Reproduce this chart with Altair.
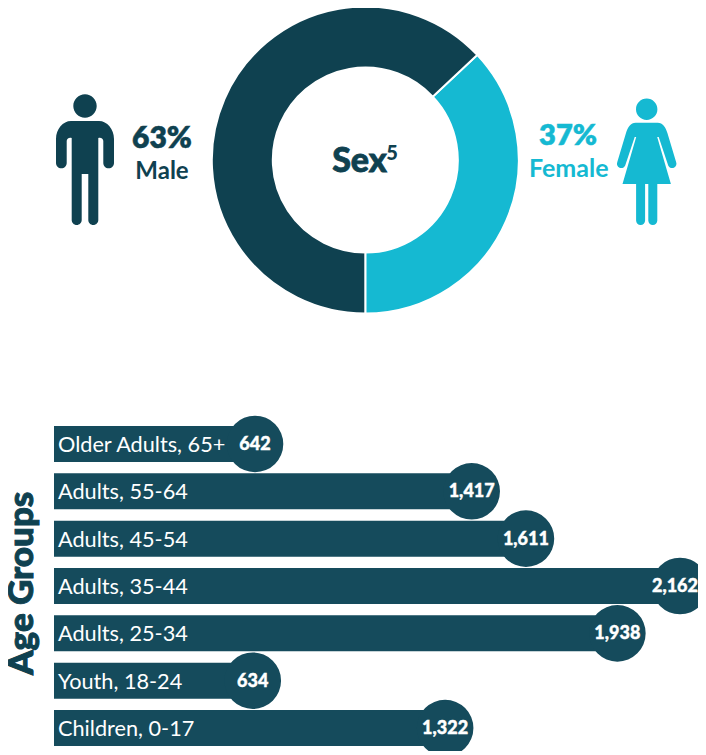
import math
import altair as alt
import pandas as pd

sexes = ["Female", "Male"]
sex_shares = [37, 63]
sex_order = [0, 1]
age_groups = ["Older Adults, 65+", "Adults, 55-64", "Adults, 45-54", "Adults, 35-44",
              "Adults, 25-34", "Youth, 18-24", "Children, 0-17"]
age_counts = [642, 1417, 1611, 2162, 1938, 634, 1322]

DARK = "#0f4150"
BAR = "#154b5c"
TEAL = "#15b9d2"
FONT = "Lato"
OX, OY = 8, 8

MALE_ICON = ("M-11.7,-59 a11.7,11.7 0 1,0 23.4,0 a11.7,11.7 0 1,0 -23.4,0 Z "
             "M-14,-44 H14 C22,-44 29,-36 29,-26 V-2 A5.35,5.35 0 0 1 18.3,-2 V-24 C18.3,-26 16,-28 13.3,-27 "
             "V55 A5,5 0 0 1 3.3,55 V9 H-3.3 V55 A5,5 0 0 1 -13.3,55 V-27 C-16,-28 -18.3,-26 -18.3,-24 V-2 "
             "A5.35,5.35 0 0 1 -29,-2 V-26 C-29,-36 -22,-44 -14,-44 Z")
FEMALE_ICON = ("M-10.7,-55.7 a10.7,10.7 0 1,0 21.4,0 a10.7,10.7 0 1,0 -21.4,0 Z "
               "M-11,-42.3 H11 C16,-42.3 19,-38 20.7,-32 L29.4,-3 A4,4 0 0 1 21.5,0.5 L12,-28 L10.5,-28 "
               "L24.2,19 H10.6 V55.5 A4.5,4.5 0 0 1 1.6,55.5 V19 H-1.6 V55.5 A4.5,4.5 0 0 1 -10.6,55.5 V19 "
               "H-24.2 L-10.5,-28 L-12,-28 L-21.5,0.5 A4,4 0 0 1 -29.4,-3 L-20.7,-32 C-19,-38 -16,-42.3 -11,-42.3 Z")

sex_df = pd.DataFrame({"sex": sexes, "share": sex_shares, "ord": sex_order})
age_df = pd.DataFrame({"group": age_groups, "count": age_counts})
age_df["fmt"] = [f"{v:,}" for v in age_counts]

start = math.radians(46.8)
donut = alt.Chart(sex_df).mark_arc(radius=153.5, radius2=92.5, stroke="white", strokeWidth=2).encode(
    x=alt.value(365.3 - OX), y=alt.value(160 - OY),
    theta=alt.Theta("share:Q", stack=True,
                    scale=alt.Scale(domain=[0, 100], range=[start, start + 2 * math.pi])),
    order=alt.Order("ord:Q"),
    color=alt.Color("sex:N", scale=alt.Scale(domain=sexes, range=[TEAL, DARK]), legend=None),
)


def label(text, x, y, size, color, weight=700, angle=0, align="center", thick=0):
    kw = {"angle": angle} if angle else {}
    if thick:
        kw.update(stroke=color, strokeWidth=thick)
    return alt.Chart(pd.DataFrame({"t": [text]})).mark_text(
        fontSize=size, fontWeight=weight, font=FONT, color=color, align=align,
        baseline="alphabetic", **kw
    ).encode(x=alt.value(x - OX), y=alt.value(y - OY), text="t:N")


def icon(path, x, y, color):
    return alt.Chart(pd.DataFrame({"t": ["icon"]})).mark_point(
        shape=path, size=4, filled=True, fill=color, opacity=1, strokeWidth=0
    ).encode(x=alt.value(x - OX), y=alt.value(y - OY))


x_scale = alt.Scale(domain=[0, 2162], range=[67.5, 672], nice=False, zero=False)
y_scale = alt.Scale(domain=age_groups, range=[412.3, 743.7], paddingInner=0, paddingOuter=0)
X = alt.X("count:Q", scale=x_scale, axis=None)
Y = alt.Y("group:N", scale=y_scale, axis=None, sort=age_groups)

bars = alt.Chart(age_df).mark_rect(height=36, color=BAR).encode(x=X, x2=alt.value(54 - OX), y=Y)
dots = alt.Chart(age_df).mark_circle(size=3200, color=BAR, opacity=1).encode(x=X, y=Y)
names = alt.Chart(age_df).mark_text(align="left", baseline="middle", font=FONT, fontSize=21.7,
                                    color="white", dy=1).encode(
    x=alt.value(58 - OX), y=Y, text="group:N")


def value_labels(cond, shift):
    return alt.Chart(age_df).transform_filter(cond).mark_text(
        align="center", baseline="middle", font=FONT, fontSize=18, fontWeight=900, color="white",
        dy=1, dx=shift, stroke="white", strokeWidth=0.4
    ).encode(x=X, y=Y, text="fmt:N")


chart = alt.layer(
    donut,
    icon(MALE_ICON, 85, 165, DARK),
    icon(FEMALE_ICON, 646.7, 165, TEAL),
    label("63%", 162, 148, 30, DARK, 800, thick=0.5),
    label("Male", 162, 179, 24, DARK, 700),
    label("37%", 568, 145, 29, TEAL, 800, thick=0.5),
    label("Female", 568.7, 177, 25, TEAL, 700),
    label("Sex", 359.5, 172, 34, DARK, 900, thick=0.8),
    label("5", 392, 160, 20, DARK, 900),
    label("Age Groups", 33, 583.3, 35, DARK, 900, angle=270, thick=1),
    bars, dots, names,
    value_labels("datum.count < 2162", 0),
    value_labels("datum.count >= 2162", -5),
).properties(
    width=690, height=743, padding=0,
    autosize=alt.AutoSizeParams(type="none"),
).configure_view(stroke=None)

chart.save("out.html", embed_options={"renderer": "svg", "actions": False})
